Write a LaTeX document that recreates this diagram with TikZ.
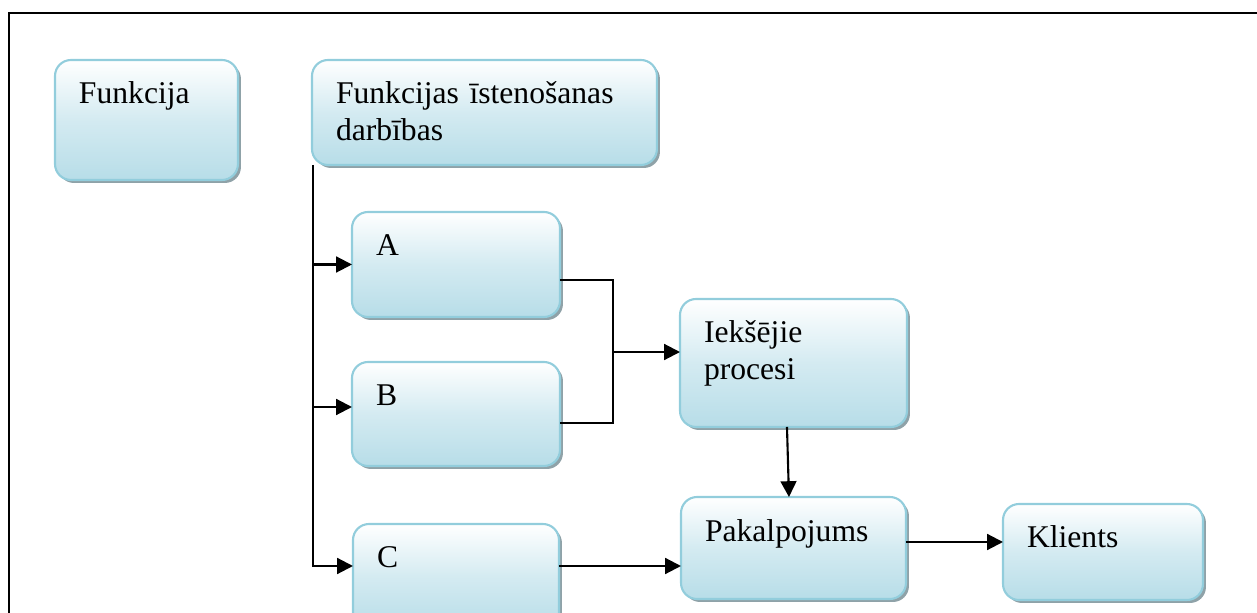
\documentclass[tikz,border=0pt]{standalone}
\usepackage{fontspec}
\setmainfont{Liberation Serif}
\usepackage{tikz}
\usetikzlibrary{arrows.meta, shadows}
\definecolor{blokmala}{HTML}{92CDDC}
\definecolor{blokzils}{HTML}{B7DDE8}
\definecolor{blokena}{HTML}{8FA2A8}
\tikzset{blok/.style={draw=blokmala, line width=1.2pt, rounded corners=0.32cm,
		top color=white, bottom color=blokzils, middle color=blokzils!60,
		drop shadow={shadow xshift=0.06cm, shadow yshift=-0.06cm, fill=blokena, opacity=1},
		anchor=north west, outer sep=0pt, inner xsep=0.48cm, inner ysep=0pt,
		text height=0.88cm, align=left, font=\fontsize{18}{20.7}\selectfont},
	strela/.style={line width=1.2pt, -{Triangle[length=9pt,width=9pt]}}}

\begin{document}
\begin{tikzpicture}
	[x=0.02cm, y=-0.02cm]
	\useasboundingbox (0,0) rectangle (1257,612);
	\clip (0,0) rectangle (1257,612);
	\draw[line width=1.2pt] (9,660) -- (9,13) -- (1280,13);
	\node[blok, text width=2.70cm, text depth=1.52cm] (funk) at (55,60) {Funkcija};
	\node[blok, text width=5.94cm, text depth=1.22cm] (ist) at (312,60) {Funkcijas īstenošanas\\darbības};
	\node[blok, text width=3.20cm, text depth=1.22cm] (a) at (352,212) {A};
	\node[blok, text width=3.20cm, text depth=1.20cm] (b) at (352,362) {B};
	\node[blok, text width=3.16cm, text depth=1.24cm] (c) at (353,524) {C};
	\node[blok, text width=3.58cm, text depth=1.68cm] (iek) at (680,299) {Iekšējie\\procesi};
	\node[blok, text width=3.54cm, text depth=1.16cm] (pak) at (681,497) {Pakalpojums};
	\node[blok, text width=3.04cm, text depth=1.04cm] (kl) at (1003,504) {Klients};
	\coordinate (sakums) at ([xshift=0.02cm]ist.south west);
	\coordinate (apvieno) at (613,352);
	\coordinate (bieeja) at ([yshift=0.14cm]b.west);
	\draw[strela] (sakums) |- ([yshift=0.22cm]c.west);
	\draw[strela] (sakums |- a.west) -- (a.west);
	\draw[strela] (sakums |- bieeja) -- (bieeja);
	\draw[line width=1.2pt] ([yshift=-0.31cm]a.east) -| (apvieno) |- ([yshift=-0.18cm]b.east);
	\draw[strela] (apvieno) -- (apvieno -| iek.west);
	\draw[strela] ([xshift=-0.13cm]iek.south) -- ([xshift=-0.09cm]pak.north);
	\draw[strela] ([yshift=0.22cm]c.east) -- ([yshift=0.22cm]c.east -| pak.west);
	\draw[strela] ([yshift=0.12cm]pak.east) -- ([yshift=0.12cm]pak.east -| kl.west);
\end{tikzpicture}
\end{document}
